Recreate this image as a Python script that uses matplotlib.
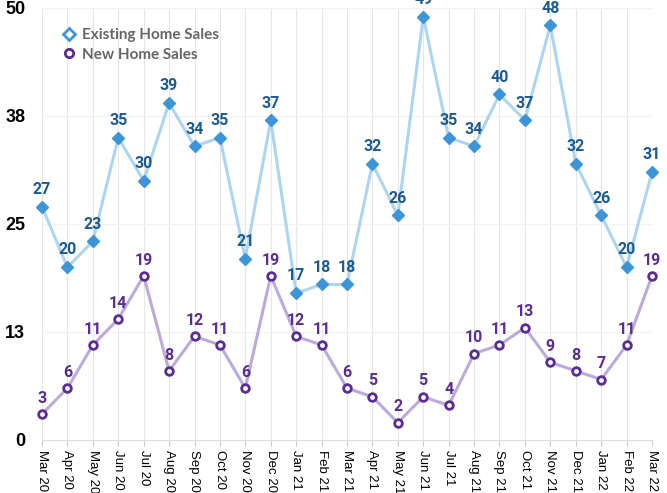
import matplotlib
matplotlib.use("Agg")
import matplotlib.pyplot as plt
from matplotlib.lines import Line2D

months = ["Mar 20", "Apr 20", "May 20", "Jun 20", "Jul 20", "Aug 20", "Sep 20", "Oct 20",
          "Nov 20", "Dec 20", "Jan 21", "Feb 21", "Mar 21", "Apr 21", "May 21", "Jun 21",
          "Jul 21", "Aug 21", "Sep 21", "Oct 21", "Nov 21", "Dec 21", "Jan 22", "Feb 22", "Mar 22"]
existing = [27, 20, 23, 35, 30, 39, 34, 35, 21, 37, 17, 18, 18, 32, 26, 49, 35, 34, 40, 37, 48, 32, 26, 20, 31]
new = [3, 6, 11, 14, 19, 8, 12, 11, 6, 19, 12, 11, 6, 5, 2, 5, 4, 10, 11, 13, 9, 8, 7, 11, 19]
yticks = [0, 12.5, 25, 37.5, 50]
ytick_labels = ["0", "13", "25", "38", "50"]

fig = plt.figure(figsize=(6.67, 4.93), dpi=100)
ax = fig.add_axes([42/667, 1-440/493, (652-42)/667, (440-8)/493])

x = list(range(len(months)))
ax.plot(x, existing, color="#aed5f0", lw=2.2, zorder=2)
ax.plot(x, existing, ls="none", marker="D", ms=6, color="#3d95d8", zorder=3)
ax.plot(x, new, color="#bcaad9", lw=2.2, zorder=2)
ax.plot(x, new, ls="none", marker="o", ms=5.5, mfc="white", mec="#5a2d91", mew=2, zorder=3)

lab_font = dict(family="Roboto", weight="bold", fontsize=11.5)
for xi, v in zip(x, existing):
    ax.annotate(str(v), (xi, v), xytext=(0, 7), textcoords="offset points",
                ha="center", va="bottom", color="#1d5a8f", **lab_font)
for xi, v in zip(x, new):
    ax.annotate(str(v), (xi, v), xytext=(0, 6), textcoords="offset points",
                ha="center", va="bottom", color="#5a2d91", **lab_font)

ax.set_xlim(0, len(months) - 1)
ax.set_ylim(0, 50)
ax.set_xticks(x)
ax.set_xticklabels(months, rotation=270, fontsize=9.5, family="Liberation Sans")
ax.set_yticks(yticks)
ax.set_yticklabels(ytick_labels, fontsize=13, family="Liberation Sans", weight="bold")
ax.tick_params(axis="x", length=4, color="#cccccc", pad=3)
ax.tick_params(axis="y", length=0, pad=12)
ax.grid(True, axis="x", color="#e6e6e6", lw=0.8)
ax.grid(True, axis="y", color="#f2f2f2", lw=0.8)
ax.set_axisbelow(True)
for s in ["top", "right", "left"]:
    ax.spines[s].set_visible(False)
ax.spines["bottom"].set_color("#dddddd")
for a in ax.get_children():
    if isinstance(a, Line2D):
        a.set_clip_on(False)

handles = [Line2D([], [], ls="none", marker="D", ms=6, mfc="white", mec="#3d95d8", mew=2),
           Line2D([], [], ls="none", marker="o", ms=6, mfc="white", mec="#5a2d91", mew=2)]
leg = ax.legend(handles, ["Existing Home Sales", "New Home Sales"], loc="upper left",
                bbox_to_anchor=(0.01, 0.985), frameon=False, handletextpad=0.3,
                handlelength=1.0, labelspacing=0.35,
                prop=dict(family="Lato", weight="bold", size=11))
for t in leg.get_texts():
    t.set_color("#666666")

fig.savefig("out.png", dpi=100)
